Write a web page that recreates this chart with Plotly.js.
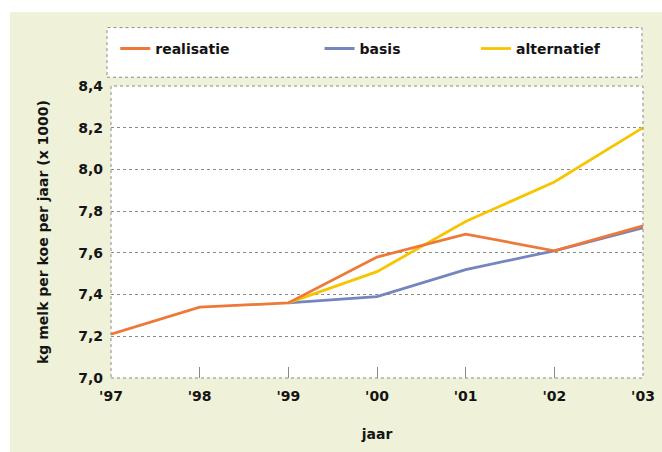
<!DOCTYPE html>
<html>
<head>
<meta charset="utf-8">
<script src="https://cdn.plot.ly/plotly-3.0.1.min.js"></script>
<style>
  html, body { margin: 0; padding: 0; background: #ffffff; }
  #wrap { position: relative; width: 662px; height: 452px; background: #ffffff; overflow: hidden; }
  #chart { position: absolute; left: 10px; top: 12px; width: 652px; height: 440px; }
</style>
</head>
<body>
<div id="wrap"><div id="chart"></div></div>
<script>
const years = [1997, 1998, 1999, 2000, 2001, 2002, 2003];
const tickLabels = ["'97", "'98", "'99", "'00", "'01", "'02", "'03"];
const realisatie = [7.21, 7.34, 7.36, 7.58, 7.69, 7.61, 7.73];
const basisYears = [1999, 2000, 2001, 2002, 2003];
const basis = [7.36, 7.39, 7.52, 7.61, 7.72];
const alternatiefYears = [1999, 2000, 2001, 2002, 2003];
const alternatief = [7.36, 7.51, 7.75, 7.94, 8.20];

const font = {family: 'DejaVu Sans, sans-serif', size: 14, color: '#141414', weight: 'bold'};

const traces = [
  {x: basisYears, y: basis, name: 'basis', mode: 'lines', type: 'scatter',
   line: {color: '#7585bd', width: 2.8}, legend: 'legend2'},
  {x: alternatiefYears, y: alternatief, name: 'alternatief', mode: 'lines', type: 'scatter',
   line: {color: '#f7c500', width: 2.8}, legend: 'legend3'},
  {x: years, y: realisatie, name: 'realisatie', mode: 'lines', type: 'scatter',
   line: {color: '#ee7838', width: 2.8}, legend: 'legend'}
];

const legBase = {orientation: 'h', bgcolor: 'rgba(0,0,0,0)', borderwidth: 0,
  yanchor: 'middle', y: 1.127, xanchor: 'left', font: font};

const layout = {
  width: 652, height: 440,
  margin: {l: 101, r: 19, t: 74, b: 74},
  paper_bgcolor: '#eff1d8',
  plot_bgcolor: '#ffffff',
  separators: ',.',
  font: font,
  showlegend: true,
  legend: Object.assign({}, legBase, {x: 0.008}),
  legend2: Object.assign({}, legBase, {x: 0.392}),
  legend3: Object.assign({}, legBase, {x: 0.686}),
  xaxis: {
    range: [1997, 2003], tickvals: years, ticktext: tickLabels,
    showgrid: false, zeroline: false, showline: false,
    ticks: 'inside', ticklen: 11, tickcolor: '#8a8a8a', tickwidth: 1,
    ticklabelstandoff: 8, tickfont: font,
    title: {text: 'jaar', font: font, standoff: 26}
  },
  yaxis: {
    range: [7.0, 8.4], dtick: 0.2, tick0: 7.0, tickformat: '.1f',
    showgrid: true, gridcolor: '#8a8a8a', griddash: 'dot', gridwidth: 1,
    zeroline: false, showline: false, ticks: '',
    ticklabelstandoff: 7, tickfont: font,
    title: {text: 'kg melk per koe per jaar (x 1000)', font: font, standoff: 26}
  },
  shapes: [
    {type: 'rect', xref: 'paper', yref: 'paper', x0: 0, x1: 1, y0: 0, y1: 1,
     line: {color: '#8a8a8a', width: 1, dash: 'dot'}, fillcolor: 'rgba(0,0,0,0)', layer: 'above'},
    {type: 'rect', xref: 'paper', yref: 'paper', x0: -0.0075, x1: 0.998, y0: 1.03, y1: 1.2,
     line: {color: '#8a8a8a', width: 1, dash: 'dot'}, fillcolor: '#ffffff', layer: 'below'}
  ]
};

Plotly.newPlot('chart', traces, layout, {displayModeBar: false, staticPlot: true});
</script>
</body>
</html>
